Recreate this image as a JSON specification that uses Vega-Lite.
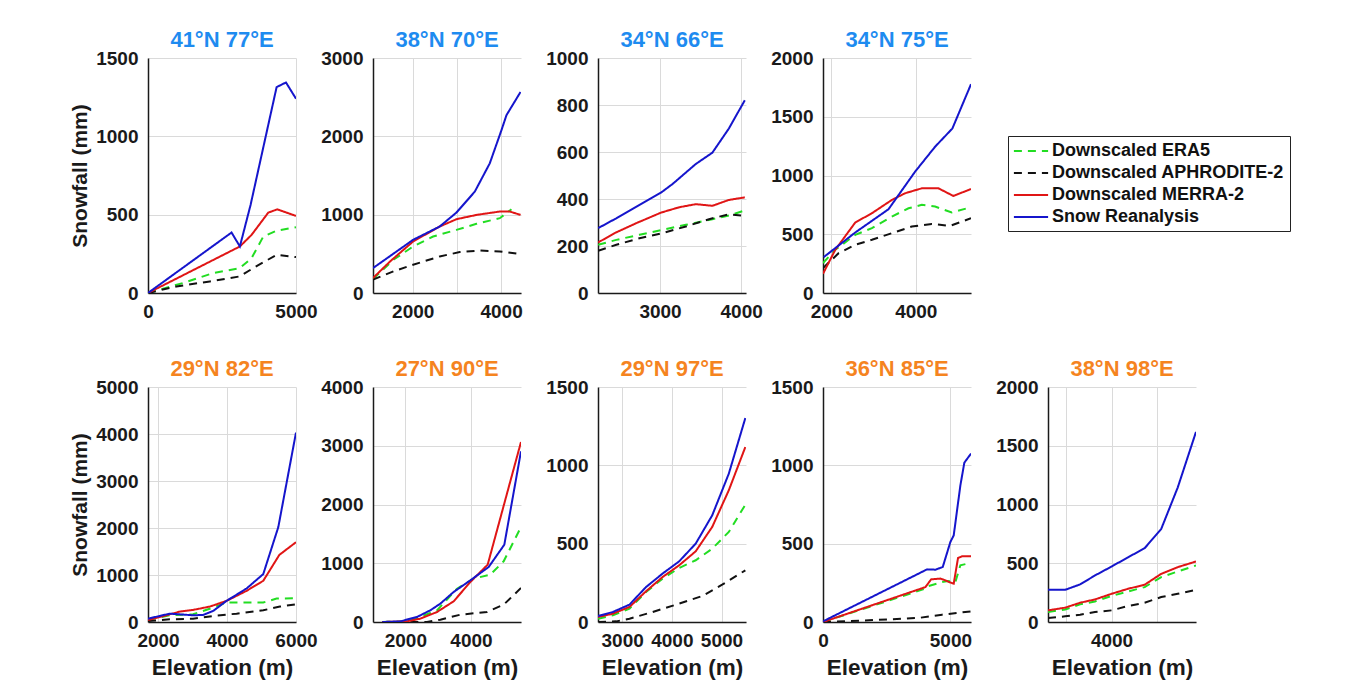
{
  "$schema": "https://vega.github.io/schema/vega-lite/v6.json",
  "padding": {"left": 69, "top": 29, "right": 5, "bottom": 5},
  "background": "white",
  "datasets": {
    "d": [
      {"p":1,"s":"Downscaled ERA5","x":0,"y":0},{"p":1,"s":"Downscaled ERA5","x":1185,"y":64},{"p":1,"s":"Downscaled ERA5","x":2200,"y":127},{"p":1,"s":"Downscaled ERA5","x":3104,"y":159},{"p":1,"s":"Downscaled ERA5","x":3499,"y":223},{"p":1,"s":"Downscaled ERA5","x":3894,"y":360},{"p":1,"s":"Downscaled ERA5","x":4345,"y":398},{"p":1,"s":"Downscaled ERA5","x":5000,"y":420},
      {"p":1,"s":"Downscaled APHRODITE-2","x":0,"y":0},{"p":1,"s":"Downscaled APHRODITE-2","x":960,"y":42},{"p":1,"s":"Downscaled APHRODITE-2","x":2088,"y":74},{"p":1,"s":"Downscaled APHRODITE-2","x":3104,"y":106},{"p":1,"s":"Downscaled APHRODITE-2","x":3555,"y":159},{"p":1,"s":"Downscaled APHRODITE-2","x":4345,"y":244},{"p":1,"s":"Downscaled APHRODITE-2","x":5000,"y":229},
      {"p":1,"s":"Downscaled MERRA-2","x":0,"y":0},{"p":1,"s":"Downscaled MERRA-2","x":3104,"y":297},{"p":1,"s":"Downscaled MERRA-2","x":3499,"y":371},{"p":1,"s":"Downscaled MERRA-2","x":4063,"y":513},{"p":1,"s":"Downscaled MERRA-2","x":4368,"y":534},{"p":1,"s":"Downscaled MERRA-2","x":5000,"y":492},
      {"p":1,"s":"Snow Reanalysis","x":0,"y":0},{"p":1,"s":"Snow Reanalysis","x":2822,"y":386},{"p":1,"s":"Snow Reanalysis","x":3104,"y":297},{"p":1,"s":"Snow Reanalysis","x":3465,"y":562},{"p":1,"s":"Snow Reanalysis","x":4345,"y":1314},{"p":1,"s":"Snow Reanalysis","x":4661,"y":1344},{"p":1,"s":"Snow Reanalysis","x":5000,"y":1240},

      {"p":2,"s":"Downscaled ERA5","x":1100,"y":178},{"p":2,"s":"Downscaled ERA5","x":1562,"y":424},{"p":2,"s":"Downscaled ERA5","x":2008,"y":594},{"p":2,"s":"Downscaled ERA5","x":2460,"y":721},{"p":2,"s":"Downscaled ERA5","x":2989,"y":806},{"p":2,"s":"Downscaled ERA5","x":3442,"y":883},{"p":2,"s":"Downscaled ERA5","x":3970,"y":955},{"p":2,"s":"Downscaled ERA5","x":4234,"y":1069},
      {"p":2,"s":"Downscaled APHRODITE-2","x":1100,"y":170},{"p":2,"s":"Downscaled APHRODITE-2","x":1562,"y":276},{"p":2,"s":"Downscaled APHRODITE-2","x":2008,"y":361},{"p":2,"s":"Downscaled APHRODITE-2","x":2611,"y":467},{"p":2,"s":"Downscaled APHRODITE-2","x":3064,"y":522},{"p":2,"s":"Downscaled APHRODITE-2","x":3517,"y":543},{"p":2,"s":"Downscaled APHRODITE-2","x":3970,"y":530},{"p":2,"s":"Downscaled APHRODITE-2","x":4440,"y":496},
      {"p":2,"s":"Downscaled MERRA-2","x":1100,"y":191},{"p":2,"s":"Downscaled MERRA-2","x":1487,"y":403},{"p":2,"s":"Downscaled MERRA-2","x":2008,"y":658},{"p":2,"s":"Downscaled MERRA-2","x":2611,"y":849},{"p":2,"s":"Downscaled MERRA-2","x":2989,"y":942},{"p":2,"s":"Downscaled MERRA-2","x":3442,"y":997},{"p":2,"s":"Downscaled MERRA-2","x":3970,"y":1040},{"p":2,"s":"Downscaled MERRA-2","x":4196,"y":1040},{"p":2,"s":"Downscaled MERRA-2","x":4440,"y":997},
      {"p":2,"s":"Snow Reanalysis","x":1100,"y":318},{"p":2,"s":"Snow Reanalysis","x":2008,"y":679},{"p":2,"s":"Snow Reanalysis","x":2611,"y":849},{"p":2,"s":"Snow Reanalysis","x":2989,"y":1027},{"p":2,"s":"Snow Reanalysis","x":3404,"y":1294},{"p":2,"s":"Snow Reanalysis","x":3743,"y":1655},{"p":2,"s":"Snow Reanalysis","x":4008,"y":2079},{"p":2,"s":"Snow Reanalysis","x":4121,"y":2270},{"p":2,"s":"Snow Reanalysis","x":4440,"y":2567},

      {"p":3,"s":"Downscaled ERA5","x":2237,"y":205},{"p":3,"s":"Downscaled ERA5","x":2461,"y":226},{"p":3,"s":"Downscaled ERA5","x":2747,"y":248},{"p":3,"s":"Downscaled ERA5","x":3033,"y":269},{"p":3,"s":"Downscaled ERA5","x":3318,"y":290},{"p":3,"s":"Downscaled ERA5","x":3645,"y":314},{"p":3,"s":"Downscaled ERA5","x":3849,"y":330},{"p":3,"s":"Downscaled ERA5","x":4045,"y":351},
      {"p":3,"s":"Downscaled APHRODITE-2","x":2237,"y":180},{"p":3,"s":"Downscaled APHRODITE-2","x":2461,"y":205},{"p":3,"s":"Downscaled APHRODITE-2","x":2747,"y":233},{"p":3,"s":"Downscaled APHRODITE-2","x":3033,"y":255},{"p":3,"s":"Downscaled APHRODITE-2","x":3318,"y":283},{"p":3,"s":"Downscaled APHRODITE-2","x":3604,"y":314},{"p":3,"s":"Downscaled APHRODITE-2","x":3849,"y":335},{"p":3,"s":"Downscaled APHRODITE-2","x":4045,"y":328},
      {"p":3,"s":"Downscaled MERRA-2","x":2237,"y":215},{"p":3,"s":"Downscaled MERRA-2","x":2441,"y":255},{"p":3,"s":"Downscaled MERRA-2","x":2706,"y":297},{"p":3,"s":"Downscaled MERRA-2","x":3012,"y":342},{"p":3,"s":"Downscaled MERRA-2","x":3237,"y":365},{"p":3,"s":"Downscaled MERRA-2","x":3441,"y":378},{"p":3,"s":"Downscaled MERRA-2","x":3645,"y":371},{"p":3,"s":"Downscaled MERRA-2","x":3849,"y":396},{"p":3,"s":"Downscaled MERRA-2","x":4045,"y":407},
      {"p":3,"s":"Snow Reanalysis","x":2237,"y":276},{"p":3,"s":"Snow Reanalysis","x":2461,"y":318},{"p":3,"s":"Snow Reanalysis","x":2747,"y":375},{"p":3,"s":"Snow Reanalysis","x":3012,"y":427},{"p":3,"s":"Snow Reanalysis","x":3155,"y":464},{"p":3,"s":"Snow Reanalysis","x":3441,"y":549},{"p":3,"s":"Snow Reanalysis","x":3645,"y":597},{"p":3,"s":"Snow Reanalysis","x":3849,"y":700},{"p":3,"s":"Snow Reanalysis","x":4045,"y":820},

      {"p":4,"s":"Downscaled ERA5","x":1803,"y":255},{"p":4,"s":"Downscaled ERA5","x":2094,"y":368},{"p":4,"s":"Downscaled ERA5","x":2567,"y":495},{"p":4,"s":"Downscaled ERA5","x":2961,"y":552},{"p":4,"s":"Downscaled ERA5","x":3433,"y":651},{"p":4,"s":"Downscaled ERA5","x":3827,"y":721},{"p":4,"s":"Downscaled ERA5","x":4142,"y":750},{"p":4,"s":"Downscaled ERA5","x":4457,"y":736},{"p":4,"s":"Downscaled ERA5","x":4850,"y":685},{"p":4,"s":"Downscaled ERA5","x":5307,"y":730},
      {"p":4,"s":"Downscaled APHRODITE-2","x":1803,"y":212},{"p":4,"s":"Downscaled APHRODITE-2","x":2173,"y":339},{"p":4,"s":"Downscaled APHRODITE-2","x":2567,"y":410},{"p":4,"s":"Downscaled APHRODITE-2","x":2961,"y":453},{"p":4,"s":"Downscaled APHRODITE-2","x":3433,"y":509},{"p":4,"s":"Downscaled APHRODITE-2","x":3906,"y":566},{"p":4,"s":"Downscaled APHRODITE-2","x":4378,"y":588},{"p":4,"s":"Downscaled APHRODITE-2","x":4811,"y":571},{"p":4,"s":"Downscaled APHRODITE-2","x":5307,"y":636},
      {"p":4,"s":"Downscaled MERRA-2","x":1803,"y":164},{"p":4,"s":"Downscaled MERRA-2","x":2094,"y":368},{"p":4,"s":"Downscaled MERRA-2","x":2567,"y":600},{"p":4,"s":"Downscaled MERRA-2","x":2961,"y":679},{"p":4,"s":"Downscaled MERRA-2","x":3433,"y":792},{"p":4,"s":"Downscaled MERRA-2","x":3748,"y":849},{"p":4,"s":"Downscaled MERRA-2","x":4142,"y":891},{"p":4,"s":"Downscaled MERRA-2","x":4535,"y":891},{"p":4,"s":"Downscaled MERRA-2","x":4890,"y":826},{"p":4,"s":"Downscaled MERRA-2","x":5307,"y":885},
      {"p":4,"s":"Snow Reanalysis","x":1818,"y":305},{"p":4,"s":"Snow Reanalysis","x":2567,"y":515},{"p":4,"s":"Snow Reanalysis","x":3354,"y":713},{"p":4,"s":"Snow Reanalysis","x":3984,"y":1033},{"p":4,"s":"Snow Reanalysis","x":4457,"y":1245},{"p":4,"s":"Snow Reanalysis","x":4866,"y":1400},{"p":4,"s":"Snow Reanalysis","x":5307,"y":1777},

      {"p":5,"s":"Downscaled ERA5","x":1709,"y":43},{"p":5,"s":"Downscaled ERA5","x":2339,"y":143},{"p":5,"s":"Downscaled ERA5","x":3017,"y":164},{"p":5,"s":"Downscaled ERA5","x":3598,"y":307},{"p":5,"s":"Downscaled ERA5","x":3985,"y":414},{"p":5,"s":"Downscaled ERA5","x":4567,"y":414},{"p":5,"s":"Downscaled ERA5","x":5051,"y":414},{"p":5,"s":"Downscaled ERA5","x":5438,"y":499},{"p":5,"s":"Downscaled ERA5","x":6000,"y":506},
      {"p":5,"s":"Downscaled APHRODITE-2","x":1709,"y":21},{"p":5,"s":"Downscaled APHRODITE-2","x":2339,"y":57},{"p":5,"s":"Downscaled APHRODITE-2","x":3017,"y":71},{"p":5,"s":"Downscaled APHRODITE-2","x":3598,"y":128},{"p":5,"s":"Downscaled APHRODITE-2","x":4276,"y":178},{"p":5,"s":"Downscaled APHRODITE-2","x":5051,"y":250},{"p":5,"s":"Downscaled APHRODITE-2","x":5535,"y":328},{"p":5,"s":"Downscaled APHRODITE-2","x":6000,"y":378},
      {"p":5,"s":"Downscaled MERRA-2","x":1709,"y":43},{"p":5,"s":"Downscaled MERRA-2","x":2339,"y":164},{"p":5,"s":"Downscaled MERRA-2","x":2630,"y":221},{"p":5,"s":"Downscaled MERRA-2","x":3017,"y":257},{"p":5,"s":"Downscaled MERRA-2","x":3501,"y":328},{"p":5,"s":"Downscaled MERRA-2","x":3985,"y":449},{"p":5,"s":"Downscaled MERRA-2","x":4567,"y":663},{"p":5,"s":"Downscaled MERRA-2","x":5051,"y":877},{"p":5,"s":"Downscaled MERRA-2","x":5516,"y":1427},{"p":5,"s":"Downscaled MERRA-2","x":6000,"y":1698},
      {"p":5,"s":"Snow Reanalysis","x":1709,"y":71},{"p":5,"s":"Snow Reanalysis","x":2339,"y":178},{"p":5,"s":"Snow Reanalysis","x":3017,"y":143},{"p":5,"s":"Snow Reanalysis","x":3307,"y":150},{"p":5,"s":"Snow Reanalysis","x":3598,"y":235},{"p":5,"s":"Snow Reanalysis","x":3985,"y":449},{"p":5,"s":"Snow Reanalysis","x":4567,"y":713},{"p":5,"s":"Snow Reanalysis","x":5051,"y":1020},{"p":5,"s":"Snow Reanalysis","x":5487,"y":2019},{"p":5,"s":"Snow Reanalysis","x":6000,"y":4030},

      {"p":6,"s":"Downscaled ERA5","x":1300,"y":0},{"p":6,"s":"Downscaled ERA5","x":2051,"y":11},{"p":6,"s":"Downscaled ERA5","x":2457,"y":85},{"p":6,"s":"Downscaled ERA5","x":2964,"y":199},{"p":6,"s":"Downscaled ERA5","x":3574,"y":567},{"p":6,"s":"Downscaled ERA5","x":4081,"y":738},{"p":6,"s":"Downscaled ERA5","x":4589,"y":806},{"p":6,"s":"Downscaled ERA5","x":4995,"y":1033},{"p":6,"s":"Downscaled ERA5","x":5523,"y":1617},
      {"p":6,"s":"Downscaled APHRODITE-2","x":1300,"y":0},{"p":6,"s":"Downscaled APHRODITE-2","x":2660,"y":0},{"p":6,"s":"Downscaled APHRODITE-2","x":3066,"y":40},{"p":6,"s":"Downscaled APHRODITE-2","x":3675,"y":125},{"p":6,"s":"Downscaled APHRODITE-2","x":4487,"y":170},{"p":6,"s":"Downscaled APHRODITE-2","x":4995,"y":295},{"p":6,"s":"Downscaled APHRODITE-2","x":5523,"y":579},
      {"p":6,"s":"Downscaled MERRA-2","x":1300,"y":0},{"p":6,"s":"Downscaled MERRA-2","x":2051,"y":11},{"p":6,"s":"Downscaled MERRA-2","x":2457,"y":57},{"p":6,"s":"Downscaled MERRA-2","x":2964,"y":170},{"p":6,"s":"Downscaled MERRA-2","x":3472,"y":352},{"p":6,"s":"Downscaled MERRA-2","x":3980,"y":681},{"p":6,"s":"Downscaled MERRA-2","x":4508,"y":976},{"p":6,"s":"Downscaled MERRA-2","x":5523,"y":3064},
      {"p":6,"s":"Snow Reanalysis","x":1300,"y":0},{"p":6,"s":"Snow Reanalysis","x":1848,"y":11},{"p":6,"s":"Snow Reanalysis","x":2355,"y":85},{"p":6,"s":"Snow Reanalysis","x":2761,"y":199},{"p":6,"s":"Snow Reanalysis","x":3066,"y":312},{"p":6,"s":"Snow Reanalysis","x":3472,"y":511},{"p":6,"s":"Snow Reanalysis","x":3980,"y":709},{"p":6,"s":"Snow Reanalysis","x":4538,"y":936},{"p":6,"s":"Snow Reanalysis","x":5015,"y":1316},{"p":6,"s":"Snow Reanalysis","x":5523,"y":2905},

      {"p":7,"s":"Downscaled ERA5","x":2513,"y":21},{"p":7,"s":"Downscaled ERA5","x":2813,"y":43},{"p":7,"s":"Downscaled ERA5","x":3147,"y":85},{"p":7,"s":"Downscaled ERA5","x":3480,"y":191},{"p":7,"s":"Downscaled ERA5","x":3813,"y":277},{"p":7,"s":"Downscaled ERA5","x":4147,"y":345},{"p":7,"s":"Downscaled ERA5","x":4480,"y":394},{"p":7,"s":"Downscaled ERA5","x":4813,"y":468},{"p":7,"s":"Downscaled ERA5","x":5147,"y":575},{"p":7,"s":"Downscaled ERA5","x":5480,"y":749},
      {"p":7,"s":"Downscaled APHRODITE-2","x":2513,"y":0},{"p":7,"s":"Downscaled APHRODITE-2","x":2880,"y":4},{"p":7,"s":"Downscaled APHRODITE-2","x":3147,"y":21},{"p":7,"s":"Downscaled APHRODITE-2","x":3613,"y":64},{"p":7,"s":"Downscaled APHRODITE-2","x":4147,"y":117},{"p":7,"s":"Downscaled APHRODITE-2","x":4613,"y":166},{"p":7,"s":"Downscaled APHRODITE-2","x":5013,"y":238},{"p":7,"s":"Downscaled APHRODITE-2","x":5480,"y":330},
      {"p":7,"s":"Downscaled MERRA-2","x":2513,"y":32},{"p":7,"s":"Downscaled MERRA-2","x":2813,"y":53},{"p":7,"s":"Downscaled MERRA-2","x":3147,"y":96},{"p":7,"s":"Downscaled MERRA-2","x":3480,"y":196},{"p":7,"s":"Downscaled MERRA-2","x":3813,"y":287},{"p":7,"s":"Downscaled MERRA-2","x":4147,"y":362},{"p":7,"s":"Downscaled MERRA-2","x":4480,"y":451},{"p":7,"s":"Downscaled MERRA-2","x":4813,"y":607},{"p":7,"s":"Downscaled MERRA-2","x":5147,"y":841},{"p":7,"s":"Downscaled MERRA-2","x":5480,"y":1117},
      {"p":7,"s":"Snow Reanalysis","x":2513,"y":38},{"p":7,"s":"Snow Reanalysis","x":2813,"y":64},{"p":7,"s":"Snow Reanalysis","x":3147,"y":111},{"p":7,"s":"Snow Reanalysis","x":3480,"y":223},{"p":7,"s":"Snow Reanalysis","x":3813,"y":309},{"p":7,"s":"Snow Reanalysis","x":4147,"y":387},{"p":7,"s":"Snow Reanalysis","x":4480,"y":500},{"p":7,"s":"Snow Reanalysis","x":4813,"y":681},{"p":7,"s":"Snow Reanalysis","x":5147,"y":947},{"p":7,"s":"Snow Reanalysis","x":5480,"y":1302},

      {"p":8,"s":"Downscaled ERA5","x":0,"y":0},{"p":8,"s":"Downscaled ERA5","x":4021,"y":213},{"p":8,"s":"Downscaled ERA5","x":4151,"y":230},{"p":8,"s":"Downscaled ERA5","x":4674,"y":255},{"p":8,"s":"Downscaled ERA5","x":4900,"y":262},{"p":8,"s":"Downscaled ERA5","x":5196,"y":255},{"p":8,"s":"Downscaled ERA5","x":5392,"y":362},{"p":8,"s":"Downscaled ERA5","x":5600,"y":370},
      {"p":8,"s":"Downscaled APHRODITE-2","x":0,"y":0},{"p":8,"s":"Downscaled APHRODITE-2","x":1802,"y":11},{"p":8,"s":"Downscaled APHRODITE-2","x":3760,"y":26},{"p":8,"s":"Downscaled APHRODITE-2","x":4674,"y":47},{"p":8,"s":"Downscaled APHRODITE-2","x":5809,"y":68},
      {"p":8,"s":"Downscaled MERRA-2","x":0,"y":0},{"p":8,"s":"Downscaled MERRA-2","x":4021,"y":223},{"p":8,"s":"Downscaled MERRA-2","x":4243,"y":272},{"p":8,"s":"Downscaled MERRA-2","x":4608,"y":277},{"p":8,"s":"Downscaled MERRA-2","x":4804,"y":266},{"p":8,"s":"Downscaled MERRA-2","x":4950,"y":255},{"p":8,"s":"Downscaled MERRA-2","x":5131,"y":245},{"p":8,"s":"Downscaled MERRA-2","x":5300,"y":409},{"p":8,"s":"Downscaled MERRA-2","x":5457,"y":419},{"p":8,"s":"Downscaled MERRA-2","x":5809,"y":419},
      {"p":8,"s":"Snow Reanalysis","x":0,"y":4},{"p":8,"s":"Snow Reanalysis","x":4086,"y":336},{"p":8,"s":"Snow Reanalysis","x":4413,"y":334},{"p":8,"s":"Snow Reanalysis","x":4700,"y":351},{"p":8,"s":"Snow Reanalysis","x":5000,"y":511},{"p":8,"s":"Snow Reanalysis","x":5131,"y":553},{"p":8,"s":"Snow Reanalysis","x":5392,"y":872},{"p":8,"s":"Snow Reanalysis","x":5548,"y":1017},{"p":8,"s":"Snow Reanalysis","x":5809,"y":1075},

      {"p":9,"s":"Downscaled ERA5","x":2604,"y":85},{"p":9,"s":"Downscaled ERA5","x":2982,"y":107},{"p":9,"s":"Downscaled ERA5","x":3309,"y":150},{"p":9,"s":"Downscaled ERA5","x":3636,"y":175},{"p":9,"s":"Downscaled ERA5","x":4000,"y":221},{"p":9,"s":"Downscaled ERA5","x":4364,"y":260},{"p":9,"s":"Downscaled ERA5","x":4727,"y":297},{"p":9,"s":"Downscaled ERA5","x":5091,"y":382},{"p":9,"s":"Downscaled ERA5","x":5455,"y":430},{"p":9,"s":"Downscaled ERA5","x":5855,"y":481},
      {"p":9,"s":"Downscaled APHRODITE-2","x":2604,"y":34},{"p":9,"s":"Downscaled APHRODITE-2","x":2982,"y":48},{"p":9,"s":"Downscaled APHRODITE-2","x":3309,"y":62},{"p":9,"s":"Downscaled APHRODITE-2","x":3636,"y":85},{"p":9,"s":"Downscaled APHRODITE-2","x":4000,"y":99},{"p":9,"s":"Downscaled APHRODITE-2","x":4364,"y":136},{"p":9,"s":"Downscaled APHRODITE-2","x":4727,"y":164},{"p":9,"s":"Downscaled APHRODITE-2","x":5091,"y":212},{"p":9,"s":"Downscaled APHRODITE-2","x":5455,"y":240},{"p":9,"s":"Downscaled APHRODITE-2","x":5855,"y":274},
      {"p":9,"s":"Downscaled MERRA-2","x":2604,"y":99},{"p":9,"s":"Downscaled MERRA-2","x":2982,"y":122},{"p":9,"s":"Downscaled MERRA-2","x":3309,"y":164},{"p":9,"s":"Downscaled MERRA-2","x":3636,"y":192},{"p":9,"s":"Downscaled MERRA-2","x":4000,"y":240},{"p":9,"s":"Downscaled MERRA-2","x":4364,"y":283},{"p":9,"s":"Downscaled MERRA-2","x":4727,"y":317},{"p":9,"s":"Downscaled MERRA-2","x":5091,"y":410},{"p":9,"s":"Downscaled MERRA-2","x":5455,"y":467},{"p":9,"s":"Downscaled MERRA-2","x":5855,"y":515},
      {"p":9,"s":"Snow Reanalysis","x":2604,"y":274},{"p":9,"s":"Snow Reanalysis","x":2982,"y":274},{"p":9,"s":"Snow Reanalysis","x":3309,"y":320},{"p":9,"s":"Snow Reanalysis","x":3636,"y":396},{"p":9,"s":"Snow Reanalysis","x":4000,"y":472},{"p":9,"s":"Snow Reanalysis","x":4364,"y":551},{"p":9,"s":"Snow Reanalysis","x":4727,"y":628},{"p":9,"s":"Snow Reanalysis","x":5091,"y":792},{"p":9,"s":"Snow Reanalysis","x":5455,"y":1146},{"p":9,"s":"Snow Reanalysis","x":5855,"y":1618}
    ]
  },
  "columns": 5,
  "spacing": {"column": 77, "row": 94},
  "bounds": "flush",
  "concat": [
    {"width":148,"height":235,"data":{"name":"d"},"transform":[{"filter":"datum.p==1"}],
     "title":{"text":"41°N 77°E","color":"#1e8bf0"},
     "mark":{"type":"line","strokeWidth":2,"clip":true},
     "encoding":{
      "x":{"field":"x","type":"quantitative","scale":{"domain":[0,5000],"nice":false,"zero":false},"axis":{"values":[0,5000],"title":null}},
      "y":{"field":"y","type":"quantitative","scale":{"domain":[0,1500],"nice":false},"axis":{"values":[0,500,1000,1500],"title":"Snowfall (mm)"}},
      "color":{"field":"s","type":"nominal","scale":{"domain":["Downscaled ERA5","Downscaled APHRODITE-2","Downscaled MERRA-2","Snow Reanalysis"],"range":["#22dd22","#111111","#e01515","#1515cc"]}},
      "strokeDash":{"field":"s","type":"nominal","scale":{"domain":["Downscaled ERA5","Downscaled APHRODITE-2","Downscaled MERRA-2","Snow Reanalysis"],"range":[[8,6],[8,6],[1,0],[1,0]]}}
     }},
    {"width":148,"height":235,"data":{"name":"d"},"transform":[{"filter":"datum.p==2"}],
     "title":{"text":"38°N 70°E","color":"#1e8bf0"},
     "mark":{"type":"line","strokeWidth":2,"clip":true},
     "encoding":{
      "x":{"field":"x","type":"quantitative","scale":{"domain":[1100,4450],"nice":false,"zero":false},"axis":{"values":[2000,3000,4000],"labelExpr":"datum.value==3000 ? '' : datum.label","title":null}},
      "y":{"field":"y","type":"quantitative","scale":{"domain":[0,3000],"nice":false},"axis":{"values":[0,1000,2000,3000],"title":null}},
      "color":{"field":"s","type":"nominal","scale":{"domain":["Downscaled ERA5","Downscaled APHRODITE-2","Downscaled MERRA-2","Snow Reanalysis"],"range":["#22dd22","#111111","#e01515","#1515cc"]}},
      "strokeDash":{"field":"s","type":"nominal","scale":{"domain":["Downscaled ERA5","Downscaled APHRODITE-2","Downscaled MERRA-2","Snow Reanalysis"],"range":[[8,6],[8,6],[1,0],[1,0]]}}
     }},
    {"width":148,"height":235,"data":{"name":"d"},"transform":[{"filter":"datum.p==3"}],
     "title":{"text":"34°N 66°E","color":"#1e8bf0"},
     "mark":{"type":"line","strokeWidth":2,"clip":true},
     "encoding":{
      "x":{"field":"x","type":"quantitative","scale":{"domain":[2235,4060],"nice":false,"zero":false},"axis":{"values":[3000,4000],"title":null}},
      "y":{"field":"y","type":"quantitative","scale":{"domain":[0,1000],"nice":false},"axis":{"values":[0,200,400,600,800,1000],"title":null}},
      "color":{"field":"s","type":"nominal","scale":{"domain":["Downscaled ERA5","Downscaled APHRODITE-2","Downscaled MERRA-2","Snow Reanalysis"],"range":["#22dd22","#111111","#e01515","#1515cc"]}},
      "strokeDash":{"field":"s","type":"nominal","scale":{"domain":["Downscaled ERA5","Downscaled APHRODITE-2","Downscaled MERRA-2","Snow Reanalysis"],"range":[[8,6],[8,6],[1,0],[1,0]]}}
     }},
    {"width":148,"height":235,"data":{"name":"d"},"transform":[{"filter":"datum.p==4"}],
     "title":{"text":"34°N 75°E","color":"#1e8bf0"},
     "mark":{"type":"line","strokeWidth":2,"clip":true},
     "encoding":{
      "x":{"field":"x","type":"quantitative","scale":{"domain":[1803,5307],"nice":false,"zero":false},"axis":{"values":[2000,4000],"title":null}},
      "y":{"field":"y","type":"quantitative","scale":{"domain":[0,2000],"nice":false},"axis":{"values":[0,500,1000,1500,2000],"title":null}},
      "color":{"field":"s","type":"nominal","scale":{"domain":["Downscaled ERA5","Downscaled APHRODITE-2","Downscaled MERRA-2","Snow Reanalysis"],"range":["#22dd22","#111111","#e01515","#1515cc"]}},
      "strokeDash":{"field":"s","type":"nominal","scale":{"domain":["Downscaled ERA5","Downscaled APHRODITE-2","Downscaled MERRA-2","Snow Reanalysis"],"range":[[8,6],[8,6],[1,0],[1,0]]}}
     }},
    {"width":148,"height":235,"data":{"values":[]},"mark":{"type":"point","opacity":0}},
    {"width":148,"height":235,"data":{"name":"d"},"transform":[{"filter":"datum.p==5"}],
     "title":{"text":"29°N 82°E","color":"#f5841f"},
     "mark":{"type":"line","strokeWidth":2,"clip":true},
     "encoding":{
      "x":{"field":"x","type":"quantitative","scale":{"domain":[1709,6000],"nice":false,"zero":false},"axis":{"values":[2000,4000,6000],"title":"Elevation (m)"}},
      "y":{"field":"y","type":"quantitative","scale":{"domain":[0,5000],"nice":false},"axis":{"values":[0,1000,2000,3000,4000,5000],"title":"Snowfall (mm)"}},
      "color":{"field":"s","type":"nominal","scale":{"domain":["Downscaled ERA5","Downscaled APHRODITE-2","Downscaled MERRA-2","Snow Reanalysis"],"range":["#22dd22","#111111","#e01515","#1515cc"]}},
      "strokeDash":{"field":"s","type":"nominal","scale":{"domain":["Downscaled ERA5","Downscaled APHRODITE-2","Downscaled MERRA-2","Snow Reanalysis"],"range":[[8,6],[8,6],[1,0],[1,0]]}}
     }},
    {"width":148,"height":235,"data":{"name":"d"},"transform":[{"filter":"datum.p==6"}],
     "title":{"text":"27°N 90°E","color":"#f5841f"},
     "mark":{"type":"line","strokeWidth":2,"clip":true},
     "encoding":{
      "x":{"field":"x","type":"quantitative","scale":{"domain":[1015,5523],"nice":false,"zero":false},"axis":{"values":[2000,4000],"title":"Elevation (m)"}},
      "y":{"field":"y","type":"quantitative","scale":{"domain":[0,4000],"nice":false},"axis":{"values":[0,1000,2000,3000,4000],"title":null}},
      "color":{"field":"s","type":"nominal","scale":{"domain":["Downscaled ERA5","Downscaled APHRODITE-2","Downscaled MERRA-2","Snow Reanalysis"],"range":["#22dd22","#111111","#e01515","#1515cc"]}},
      "strokeDash":{"field":"s","type":"nominal","scale":{"domain":["Downscaled ERA5","Downscaled APHRODITE-2","Downscaled MERRA-2","Snow Reanalysis"],"range":[[8,6],[8,6],[1,0],[1,0]]}}
     }},
    {"width":148,"height":235,"data":{"name":"d"},"transform":[{"filter":"datum.p==7"}],
     "title":{"text":"29°N 97°E","color":"#f5841f"},
     "mark":{"type":"line","strokeWidth":2,"clip":true},
     "encoding":{
      "x":{"field":"x","type":"quantitative","scale":{"domain":[2513,5493],"nice":false,"zero":false},"axis":{"values":[3000,4000,5000],"title":"Elevation (m)"}},
      "y":{"field":"y","type":"quantitative","scale":{"domain":[0,1500],"nice":false},"axis":{"values":[0,500,1000,1500],"title":null}},
      "color":{"field":"s","type":"nominal","scale":{"domain":["Downscaled ERA5","Downscaled APHRODITE-2","Downscaled MERRA-2","Snow Reanalysis"],"range":["#22dd22","#111111","#e01515","#1515cc"]}},
      "strokeDash":{"field":"s","type":"nominal","scale":{"domain":["Downscaled ERA5","Downscaled APHRODITE-2","Downscaled MERRA-2","Snow Reanalysis"],"range":[[8,6],[8,6],[1,0],[1,0]]}}
     }},
    {"width":148,"height":235,"data":{"name":"d"},"transform":[{"filter":"datum.p==8"}],
     "title":{"text":"36°N 85°E","color":"#f5841f"},
     "mark":{"type":"line","strokeWidth":2,"clip":true},
     "encoding":{
      "x":{"field":"x","type":"quantitative","scale":{"domain":[0,5809],"nice":false,"zero":false},"axis":{"values":[0,5000],"title":"Elevation (m)"}},
      "y":{"field":"y","type":"quantitative","scale":{"domain":[0,1500],"nice":false},"axis":{"values":[0,500,1000,1500],"title":null}},
      "color":{"field":"s","type":"nominal","scale":{"domain":["Downscaled ERA5","Downscaled APHRODITE-2","Downscaled MERRA-2","Snow Reanalysis"],"range":["#22dd22","#111111","#e01515","#1515cc"]}},
      "strokeDash":{"field":"s","type":"nominal","scale":{"domain":["Downscaled ERA5","Downscaled APHRODITE-2","Downscaled MERRA-2","Snow Reanalysis"],"range":[[8,6],[8,6],[1,0],[1,0]]}}
     }},
    {"width":148,"height":235,"data":{"name":"d"},"transform":[{"filter":"datum.p==9"}],
     "title":{"text":"38°N 98°E","color":"#f5841f"},
     "mark":{"type":"line","strokeWidth":2,"clip":true},
     "encoding":{
      "x":{"field":"x","type":"quantitative","scale":{"domain":[2604,5855],"nice":false,"zero":false},"axis":{"values":[3000,4000,5000],"labelExpr":"datum.value==4000 ? datum.label : ''","title":"Elevation (m)"}},
      "y":{"field":"y","type":"quantitative","scale":{"domain":[0,2000],"nice":false},"axis":{"values":[0,500,1000,1500,2000],"title":null}},
      "color":{"field":"s","type":"nominal","scale":{"domain":["Downscaled ERA5","Downscaled APHRODITE-2","Downscaled MERRA-2","Snow Reanalysis"],"range":["#22dd22","#111111","#e01515","#1515cc"]}},
      "strokeDash":{"field":"s","type":"nominal","scale":{"domain":["Downscaled ERA5","Downscaled APHRODITE-2","Downscaled MERRA-2","Snow Reanalysis"],"range":[[8,6],[8,6],[1,0],[1,0]]}}
     }}
  ],
  "config": {
    "font": "Liberation Sans",
    "view": {"stroke": null},
    "title": {"font": "Liberation Sans", "fontSize": 22, "fontWeight": "bold", "offset": -3, "anchor": "middle", "frame": "group"},
    "axis": {
      "labelFont": "Liberation Sans", "labelFontSize": 19, "labelFontWeight": "bold", "labelColor": "#1a1a1a",
      "titleFont": "Liberation Sans", "titleFontSize": 21, "titleFontWeight": "bold", "titleColor": "#1a1a1a",
      "domainColor": "#1a1a1a", "domainWidth": 1.5, "ticks": false,
      "grid": true, "gridColor": "#dadada", "gridWidth": 1,
      "labelFlush": false, "labelOverlap": false, "format": "d"
    },
    "axisX": {"labelPadding": 9, "titlePadding": 6, "titleFontSize": 22.5},
    "axisY": {"labelPadding": 10, "titlePadding": 5},
    "legend": {
      "orient": "none", "legendX": 860, "legendY": 78, "direction": "vertical",
      "title": null, "strokeColor": "#222222", "fillColor": "white", "padding": 5, "cornerRadius": 0,
      "labelFont": "Liberation Sans", "labelFontSize": 18, "labelFontWeight": "bold", "labelColor": "#111111", "labelLimit": 400,
      "symbolType": "M-1.9,0H1.9", "symbolSize": 324, "symbolStrokeWidth": 2, "symbolOffset": 8, "labelOffset": 11, "rowPadding": 3
    }
  }
}
